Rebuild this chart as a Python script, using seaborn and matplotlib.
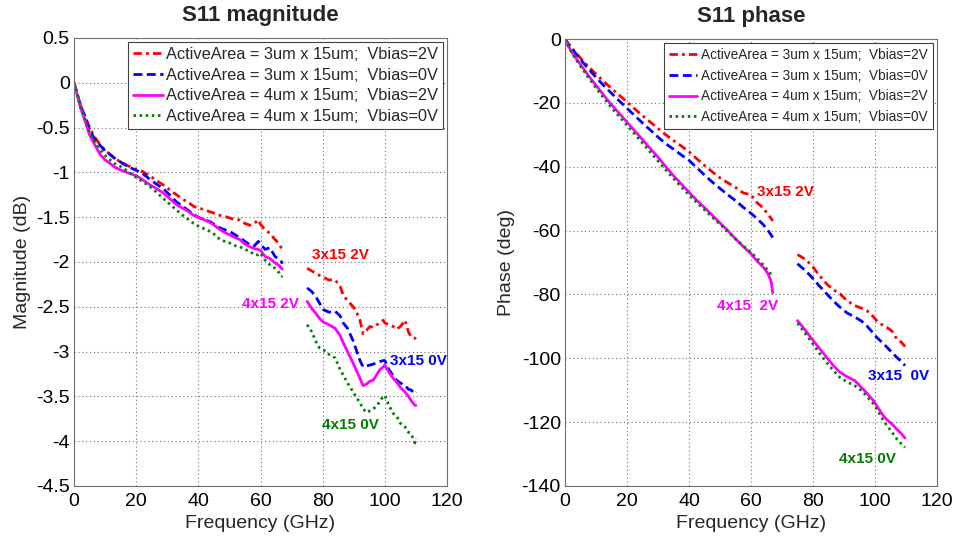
import numpy as np
import pandas as pd
import matplotlib
matplotlib.use("Agg")
import matplotlib.pyplot as plt
import seaborn as sns
from matplotlib.ticker import FuncFormatter, MultipleLocator

# ---------------- data ----------------
series_labels = [
    "ActiveArea = 3um x 15um;  Vbias=2V",
    "ActiveArea = 3um x 15um;  Vbias=0V",
    "ActiveArea = 4um x 15um;  Vbias=2V",
    "ActiveArea = 4um x 15um;  Vbias=0V",
]

# Magnitude, band 1 (0-67 GHz)
mag_f1 = [0, 1, 2, 3.5, 5, 6.5, 8.4, 10, 11.6, 13, 14.8, 17, 20.2, 22, 24.5, 26.5, 28.7, 31, 33, 35,
          37, 38.5, 40.5, 42, 43.8, 45.5, 47, 48.5, 50.2, 52, 53.4, 55, 56.6, 58, 59.3, 60, 61.5, 63,
          64.7, 66, 66.8, 67]
mag_red1 = [0, -0.12, -0.24, -0.37, -0.5, -0.6, -0.69, -0.75, -0.8, -0.84, -0.88, -0.92, -0.97, -0.99,
            -1.04, -1.09, -1.14, -1.2, -1.25, -1.3, -1.34, -1.38, -1.4, -1.42, -1.44, -1.46, -1.48,
            -1.49, -1.51, -1.53, -1.53, -1.57, -1.59, -1.57, -1.53, -1.58, -1.64, -1.68, -1.75, -1.8,
            -1.85, -1.83]
mag_blue1 = [0, -0.12, -0.24, -0.38, -0.52, -0.62, -0.7, -0.76, -0.8, -0.84, -0.88, -0.93, -0.98, -1.01,
             -1.08, -1.13, -1.18, -1.26, -1.33, -1.38, -1.43, -1.47, -1.51, -1.53, -1.55, -1.59, -1.62,
             -1.64, -1.66, -1.7, -1.73, -1.77, -1.81, -1.82, -1.77, -1.8, -1.86, -1.84, -1.94, -1.97,
             -2.0, -2.02]
mag_mag1 = [0, -0.13, -0.27, -0.42, -0.58, -0.68, -0.8, -0.86, -0.9, -0.94, -0.97, -1.0, -1.04, -1.08,
            -1.14, -1.18, -1.23, -1.3, -1.36, -1.4, -1.44, -1.48, -1.51, -1.53, -1.56, -1.6, -1.64,
            -1.67, -1.7, -1.73, -1.75, -1.8, -1.83, -1.85, -1.86, -1.87, -1.94, -1.96, -2.01, -2.04,
            -2.07, -2.08]
mag_grn1 = [0, -0.13, -0.26, -0.4, -0.55, -0.65, -0.75, -0.81, -0.86, -0.9, -0.93, -0.98, -1.06, -1.1,
            -1.16, -1.22, -1.29, -1.36, -1.42, -1.48, -1.53, -1.57, -1.61, -1.63, -1.66, -1.7, -1.75,
            -1.77, -1.79, -1.82, -1.83, -1.86, -1.88, -1.92, -1.92, -1.9, -1.98, -2.03, -2.07, -2.12,
            -2.16, -2.15]

# Magnitude, band 2 (75-110 GHz)
mag_f2 = [75, 76.5, 78, 79, 80.2, 82, 84, 85.6, 86.6, 88, 89.8, 91, 92, 93, 94.2, 95.2, 96.3, 97.5,
          98.5, 99.5, 100, 101.3, 102.7, 103.8, 105, 106.5, 107.6, 108.5, 109.7, 110]
mag_red2 = [-2.07, -2.1, -2.13, -2.15, -2.17, -2.2, -2.2, -2.27, -2.37, -2.43, -2.5, -2.57, -2.65, -2.8,
            -2.76, -2.72, -2.73, -2.7, -2.67, -2.65, -2.68, -2.7, -2.72, -2.75, -2.72, -2.65, -2.78,
            -2.84, -2.85, -2.86]
mag_blue2 = [-2.29, -2.33, -2.4, -2.46, -2.53, -2.56, -2.55, -2.6, -2.68, -2.74, -2.88, -3.0, -3.1, -3.17,
             -3.16, -3.15, -3.14, -3.12, -3.11, -3.1, -3.1, -3.2, -3.27, -3.32, -3.35, -3.38, -3.42,
             -3.43, -3.47, -3.45]
mag_mag2 = [-2.44, -2.52, -2.58, -2.63, -2.67, -2.7, -2.74, -2.82, -2.9, -3.0, -3.13, -3.22, -3.3, -3.38,
            -3.36, -3.33, -3.32, -3.25, -3.2, -3.17, -3.15, -3.23, -3.3, -3.34, -3.4, -3.45, -3.5,
            -3.55, -3.6, -3.6]
mag_grn2 = [-2.7, -2.78, -2.9, -2.96, -2.98, -3.03, -3.07, -3.2, -3.26, -3.35, -3.45, -3.52, -3.57, -3.64,
            -3.68, -3.66, -3.64, -3.6, -3.55, -3.5, -3.49, -3.6, -3.69, -3.72, -3.8, -3.84, -3.9,
            -3.92, -4.02, -3.97]

# Phase, band 1
ph_f1 = [0, 1, 2, 3.5, 5, 7.5, 10, 12.5, 15, 17.5, 20, 22.5, 25, 27.5, 30, 32.5, 35, 37.5, 40, 42.5,
         45, 47.5, 50, 52.5, 55, 57.5, 60, 62, 64, 65.5, 66.5, 67]
ph_red1 = [0, -1.4, -2.6, -4.3, -6, -8.6, -11, -13.3, -15.5, -17.6, -19.7, -21.9, -24, -26, -28, -30,
           -31.8, -33.5, -35.3, -37.5, -39.6, -41.6, -43.5, -45, -46.5, -48.2, -48.8, -51.3, -53,
           -55, -56.2, -57]
ph_blue1 = [0, -1.5, -2.8, -4.6, -6.4, -9.3, -12, -14.6, -17, -19.4, -21.7, -24, -26.3, -28.5, -30.7,
            -32.8, -34.5, -36.3, -38, -40.3, -42.6, -44.8, -46.8, -48.8, -50.6, -52.7, -54.6, -56.3,
            -58.2, -60, -61.4, -62.2]
ph_mag1 = [0, -2, -3.8, -6, -8, -11.4, -14.5, -17.6, -20.6, -23.3, -26, -28.8, -31.5, -34.3, -37, -40,
           -42.8, -45.4, -48, -50.5, -52.8, -55.2, -57.6, -60, -62.6, -65, -67.3, -69.6, -71.5,
           -73.5, -76, -79.5]
ph_grn1 = [0, -2.1, -4, -6.3, -8.5, -12, -15.3, -18.5, -21.5, -24.3, -27, -29.8, -32.6, -35.4, -38.2,
           -41, -43.7, -46.3, -48.8, -51.2, -53.5, -55.8, -58, -60.3, -62.6, -64.8, -66.8, -68.8,
           -70.8, -72.6, -73.8, -74.5]

# Phase, band 2
ph_f2 = [75, 77.5, 79.6, 82, 84.4, 86.5, 88.7, 91, 93.5, 95.6, 97.3, 99.5, 100.5, 102.7, 103.8, 105.5,
         107, 108.5, 109.7]
ph_red2 = [-67.5, -69, -70.9, -74, -76.7, -78.5, -79.8, -82, -83.5, -84.3, -85, -87, -88.2, -89.8,
           -90.3, -91.5, -93.9, -95, -96.3]
ph_blue2 = [-70.4, -72.5, -74.6, -77.3, -79.8, -82, -84, -85.8, -87.1, -88.3, -89.8, -92.2, -93.4,
            -95.4, -96.5, -98.2, -99.7, -101, -102.3]
ph_mag2 = [-88.2, -91.2, -93.9, -96.8, -99.7, -102.2, -104.4, -105.8, -107, -109.1, -110.8, -113.3,
           -114.8, -118, -119.2, -120.6, -122.2, -123.6, -125]
ph_grn2 = [-89, -92.2, -95, -98.3, -101.3, -103.8, -106, -107.4, -108.6, -110.1, -111.8, -114.3,
           -115.8, -119.5, -121, -123.2, -125.2, -126.8, -127.9]

# annotation labels
mag_label_text = ["3x15 2V", "3x15 0V", "4x15 2V", "4x15 0V"]
mag_label_pos = [(76.5, -1.92), (101.7, -3.1), (54.0, -2.47), (79.7, -3.82)]
ph_label_text = ["3x15 2V", "3x15  0V", "4x15  2V", "4x15 0V"]
ph_label_pos = [(62.0, -48.0), (97.8, -105.4), (49.0, -83.5), (88.5, -131.5)]

# ---------------- style ----------------
sns.set_style("white")
plt.rcParams["font.family"] = ["Liberation Sans", "DejaVu Sans"]
plt.rcParams["axes.unicode_minus"] = False

colors = ["#ff0000", "#0000ff", "#ff00ff", "#008000"]
styles = [(0, (3, 1.5, 1, 1.5)), (0, (3.2, 1.6)), "-", (0, (0.9, 1.3))]
label_colors = colors

fig = plt.figure(figsize=(9.58, 5.39), dpi=100)
ax1 = fig.add_axes([74 / 958, 1 - 486 / 539, 373 / 958, 448 / 539])
ax2 = fig.add_axes([565 / 958, 1 - 486 / 539, 372 / 958, 447 / 539])

mag_sets = [
    [(mag_f1, mag_red1), (mag_f2, mag_red2)],
    [(mag_f1, mag_blue1), (mag_f2, mag_blue2)],
    [(mag_f1, mag_mag1), (mag_f2, mag_mag2)],
    [(mag_f1, mag_grn1), (mag_f2, mag_grn2)],
]
ph_sets = [
    [(ph_f1, ph_red1), (ph_f2, ph_red2)],
    [(ph_f1, ph_blue1), (ph_f2, ph_blue2)],
    [(ph_f1, ph_mag1), (ph_f2, ph_mag2)],
    [(ph_f1, ph_grn1), (ph_f2, ph_grn2)],
]


def draw(ax, sets):
    for i, segs in enumerate(sets):
        for j, (fx, fy) in enumerate(segs):
            df = pd.DataFrame({"f": fx, "v": fy})
            sns.lineplot(data=df, x="f", y="v", ax=ax, color=colors[i], linestyle=styles[i],
                         linewidth=2.0, estimator=None, sort=False,
                         label=series_labels[i] if j == 0 else None)


draw(ax1, mag_sets)
draw(ax2, ph_sets)

fmt = FuncFormatter(lambda v, p: "%g" % round(v, 6))
for ax in (ax1, ax2):
    ax.set_xlim(0, 120)
    ax.xaxis.set_major_locator(MultipleLocator(20))
    ax.yaxis.set_major_formatter(fmt)
    ax.xaxis.set_major_formatter(fmt)
    ax.grid(True, linestyle=(0, (1, 2.5)), color="#707070", linewidth=0.8)
    for s in ax.spines.values():
        s.set_color("#707070")
        s.set_linewidth(0.8)
    ax.tick_params(axis="both", labelsize=14, direction="in", length=3, color="#707070",
                   labelcolor="black")
    ax.tick_params(axis="x", pad=5)
    ax.tick_params(axis="y", pad=3)
    ax.set_xlabel("Frequency (GHz)", fontsize=14, labelpad=4)

ax1.set_ylim(-4.5, 0.5)
ax1.yaxis.set_major_locator(MultipleLocator(0.5))
ax1.set_ylabel("Magnitude (dB)", fontsize=14, labelpad=4)
ax1.set_title("S11 magnitude", fontsize=16, fontweight="bold", pad=12)

ax2.set_ylim(-140, 0)
ax2.yaxis.set_major_locator(MultipleLocator(20))
ax2.set_ylabel("Phase (deg)", fontsize=14, labelpad=5)
ax2.set_title("S11 phase", fontsize=16, fontweight="bold", pad=12)

leg1 = ax1.legend(loc="upper right", fontsize=11.8, frameon=True, fancybox=False, framealpha=1,
                  edgecolor="#404040", borderaxespad=0.25, handlelength=1.8, handletextpad=0.2,
                  labelspacing=0.35, borderpad=0.3)
leg1.get_frame().set_linewidth(0.8)
leg2 = ax2.legend(loc="upper right", fontsize=9.8, frameon=True, fancybox=False, framealpha=1,
                  edgecolor="#404040", borderaxespad=0.3, handlelength=2.1, handletextpad=0.3,
                  labelspacing=0.5, borderpad=0.35)
leg2.get_frame().set_linewidth(0.8)

for txt, (x, y), c in zip(mag_label_text, mag_label_pos, label_colors):
    ax1.text(x, y, txt, color=c, fontsize=11, fontweight="bold", ha="left", va="center")
for txt, (x, y), c in zip(ph_label_text, ph_label_pos, label_colors):
    ax2.text(x, y, txt, color=c, fontsize=11, fontweight="bold", ha="left", va="center")

fig.savefig("out.png", dpi=100)
